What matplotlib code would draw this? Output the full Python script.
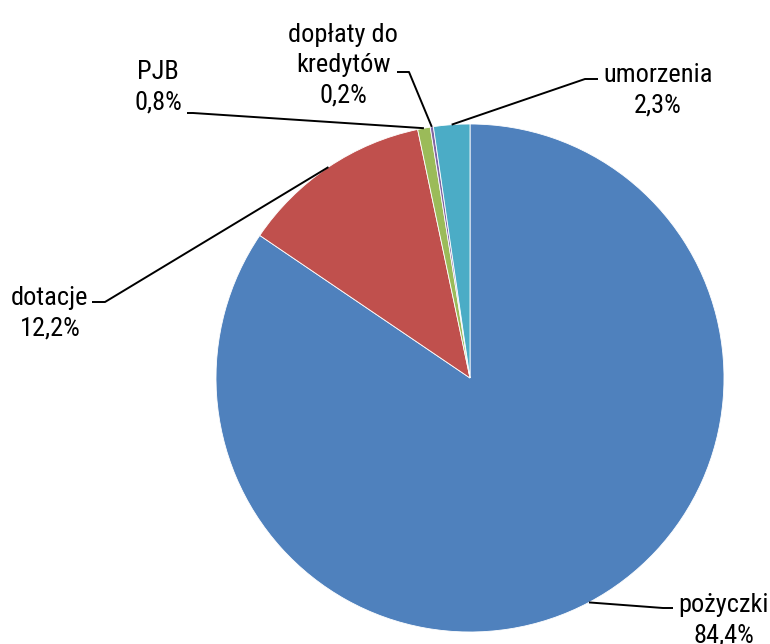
import numpy as np
import matplotlib
matplotlib.use("Agg")
import matplotlib.pyplot as plt
from matplotlib import font_manager as fm

labels = ["pożyczki", "dotacje", "PJB", "dopłaty do\nkredytów", "umorzenia"]
values = [84.4, 12.2, 0.8, 0.2, 2.3]
pct_labels = ["84,4%", "12,2%", "0,8%", "0,2%", "2,3%"]
colors = ["#4F81BD", "#C0504D", "#9BBB59", "#8064A2", "#4BACC6"]

# pick a condensed font if available
fam = "Roboto"
for f in fm.fontManager.ttflist:
    if "Roboto Condensed" in f.name:
        fam = f.name
        break
else:
    for f in fm.fontManager.ttflist:
        if "Narrow" in f.name or "Condensed" in f.name:
            fam = f.name
            break
plt.rcParams["font.family"] = [fam, "DejaVu Sans"]

W, H = 770, 644
fig = plt.figure(figsize=(W / 100, H / 100), dpi=100)
ax = fig.add_axes([0, 0, 1, 1])
ax.set_xlim(0, W)
ax.set_ylim(0, H)
ax.set_aspect("equal")
ax.axis("off")

cx, cy, R = 470, H - 378, 254
wedges, _ = ax.pie(values, colors=colors, startangle=90, counterclock=False,
                   center=(cx, cy), radius=R, frame=True,
                   wedgeprops=dict(edgecolor="white", linewidth=0.6))
ax.set_xlim(0, W)
ax.set_ylim(0, H)
ax.axis("off")

# label layout: (elbow_x, elbow_y, end_x, text_x, text_y) in pixel coords (y down)
layout = [
    (663, 608, 673, 724, 620),
    (105, 302, 92, 50, 313),
    (193, 113, 187, 158, 87),
    (409, 72, 397, 343, 65),
    (585, 79, 598, 658, 90),
]

for w, lab, pct, (ex, ey, endx, tx, ty) in zip(wedges, labels, pct_labels, layout):
    ang = np.deg2rad((w.theta1 + w.theta2) / 2)
    px = cx + R * np.cos(ang)
    py = cy + R * np.sin(ang)
    ax.plot([px, ex, endx], [py, H - ey, H - ey], color="black", lw=1.4,
            solid_capstyle="butt", zorder=3)
    ax.text(tx, H - ty, lab + "\n" + pct, ha="center", va="center",
            fontsize=19, color="black", linespacing=1.32, zorder=4)

fig.savefig("out.png", dpi=100)
